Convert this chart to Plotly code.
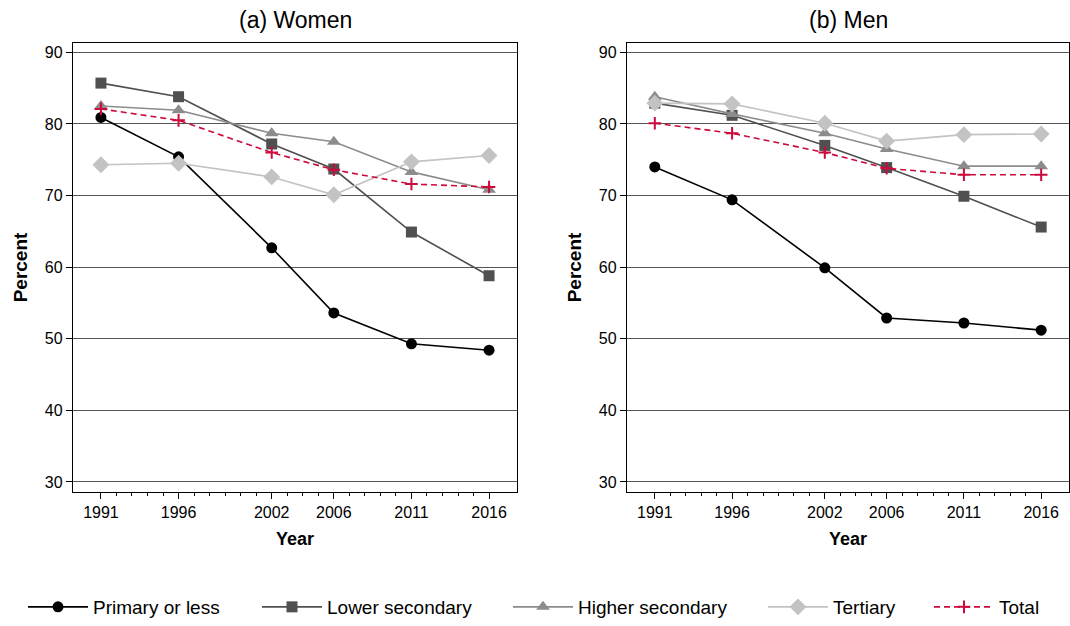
import plotly.graph_objects as go

years = [1991, 1996, 2002, 2006, 2011, 2016]
series_names = ["Primary or less", "Lower secondary", "Higher secondary", "Tertiary", "Total"]

women_primary = [80.9, 75.4, 62.7, 53.6, 49.3, 48.4]
women_lower = [85.7, 83.8, 77.2, 73.7, 64.9, 58.8]
women_higher = [82.5, 81.9, 78.7, 77.5, 73.3, 70.8]
women_tertiary = [74.3, 74.5, 72.6, 70.1, 74.7, 75.6]
women_total = [82.1, 80.5, 76.0, 73.6, 71.6, 71.2]

men_primary = [74.0, 69.4, 59.9, 52.9, 52.2, 51.2]
men_lower = [82.9, 81.2, 77.0, 73.9, 69.9, 65.6]
men_higher = [83.8, 81.4, 78.7, 76.5, 74.1, 74.1]
men_tertiary = [82.9, 82.8, 80.1, 77.6, 78.5, 78.6]
men_total = [80.1, 78.7, 76.0, 73.8, 72.9, 72.9]

y_ticks = [30, 40, 50, 60, 70, 80, 90]

styles = [
    dict(color="#000000", symbol="circle", size=11, dash="solid"),
    dict(color="#505050", symbol="square", size=11, dash="solid"),
    dict(color="#8c8c8c", symbol="triangle-up", size=12, dash="solid"),
    dict(color="#c3c3c3", symbol="diamond", size=13, dash="solid"),
    dict(color="#cc0a3c", symbol="cross-thin", size=9, dash="6px,4px"),
]

women = [women_primary, women_lower, women_higher, women_tertiary, women_total]
men = [men_primary, men_lower, men_higher, men_tertiary, men_total]

W, H = 1070, 626
FONT = "Liberation Sans, Arial, sans-serif"

# legend symbol start positions (pixels) for each entry
legend_px = [27, 261, 512, 767, 933]
legend_ids = ["legend", "legend2", "legend3", "legend4", "legend5"]

fig = go.Figure()
for panel, data in (("", women), ("2", men)):
    for i, (name, vals) in enumerate(zip(series_names, data)):
        st = styles[i]
        marker = dict(color=st["color"], symbol=st["symbol"], size=st["size"])
        if st["symbol"] == "cross-thin":
            marker["line"] = dict(color=st["color"], width=2)
        fig.add_trace(go.Scatter(
            x=years, y=vals, mode="lines+markers", name=name,
            line=dict(color=st["color"], width=1.6, dash=st["dash"]),
            marker=marker,
            showlegend=(panel == ""), legendgroup=name, legend=legend_ids[i],
            xaxis="x" + panel, yaxis="y" + panel,
        ))

def xd(a, b):
    return [a / W, b / W]
ydom = [1 - 492 / H, 1 - 43 / H]

xaxis_common = dict(
    range=[1989.2, 2017.8], tickmode="array", tickvals=years,
    ticks="outside", ticklen=6, tickwidth=1.3, tickcolor="black",
    showline=True, linecolor="black", linewidth=1.3, mirror=True,
    showgrid=False, zeroline=False,
    tickfont=dict(size=16, color="black", family=FONT),
    title=dict(text="<b>Year</b>", font=dict(size=18, color="black", family=FONT), standoff=12),
    minor=dict(tickmode="array", tickvals=list(range(1991, 2017)), ticks="outside",
               ticklen=3, tickwidth=1, tickcolor="black", showgrid=False),
)
yaxis_common = dict(
    range=[28.6, 91.3], tickmode="array", tickvals=y_ticks,
    ticks="outside", ticklen=6, tickwidth=1.3, tickcolor="black",
    showline=True, linecolor="black", linewidth=1.3, mirror=True,
    showgrid=True, gridcolor="#555555", gridwidth=1, zeroline=False,
    tickfont=dict(size=16, color="black", family=FONT),
    title=dict(text="<b>Percent</b>", font=dict(size=19, color="black", family=FONT), standoff=12),
)

layout = dict(
    width=W, height=H,
    margin=dict(l=0, r=0, t=0, b=0),
    paper_bgcolor="white", plot_bgcolor="white",
    font=dict(family=FONT, color="black"),
    xaxis=dict(domain=xd(73, 517), anchor="y", **xaxis_common),
    yaxis=dict(domain=ydom, anchor="x", **yaxis_common),
    xaxis2=dict(domain=xd(627, 1069), anchor="y2", **xaxis_common),
    yaxis2=dict(domain=ydom, anchor="x2", **yaxis_common),
    annotations=[
        dict(text="(a) Women", x=(73 + 517) / 2 / W, y=1 - 20 / H, xref="paper", yref="paper",
             showarrow=False, font=dict(size=23, color="black", family=FONT),
             xanchor="center", yanchor="middle"),
        dict(text="(b) Men", x=(627 + 1069) / 2 / W, y=1 - 20 / H, xref="paper", yref="paper",
             showarrow=False, font=dict(size=23, color="black", family=FONT),
             xanchor="center", yanchor="middle"),
    ],
)
for lid, px in zip(legend_ids, legend_px):
    layout[lid] = dict(orientation="h", x=(px - 4) / W, xanchor="left", y=1 - 607 / H,
                       yanchor="middle", font=dict(size=19, color="black", family=FONT),
                       itemwidth=60, bgcolor="rgba(0,0,0,0)")
fig.update_layout(**layout)

fig.write_html("out.html")
